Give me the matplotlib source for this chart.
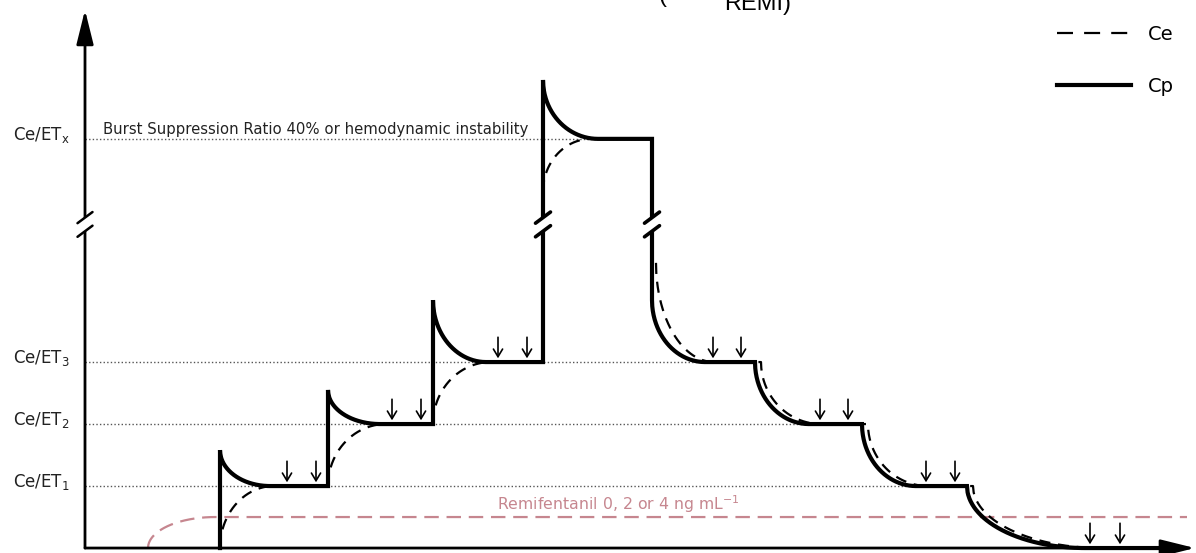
import matplotlib.pyplot as plt
import numpy as np
from matplotlib.lines import Line2D

plt.rcParams['font.family'] = ['DejaVu Sans']

# concentration levels (display units, ET_x squeezed by the axis break)
LEVEL_NAMES = ['1', '2', '3', 'x']
LEVELS = [1.0, 2.0, 3.0, 6.6]

# up-titration: step times, Cp overshoot peaks and how long each curve takes to settle
STEP_TIMES = [13.5, 24.3, 34.8, 45.8]
STEP_PEAKS = [1.58, 2.55, 4.0, 7.55]
CP_WIDTH_UP = [5.0, 5.2, 5.3, 5.5]
CE_START_UP = [0.0, 1.0, 2.0, 5.75]
CE_WIDTH_UP = [5.4, 5.8, 5.8, 4.8]

# down-titration
DOWN_TIMES = [56.7, 67.0, 77.7, 88.2]
DOWN_FROM = [4.0, 3.0, 2.0, 1.0]
DOWN_TO = [3.0, 2.0, 1.0, 0.0]
CP_WIDTH_DOWN = [5.3, 5.4, 5.4, 11.8]
CE_FROM_DOWN = [4.6, 3.0, 2.0, 1.0]
CE_LAG_DOWN = [0.4, 0.6, 0.6, 0.6]
CE_WIDTH_DOWN = [5.8, 6.0, 6.0, 12.8]
END_TIME = 109.5

# remifentanil background
REMI_START = 6.3
REMI_WIDTH = 6.7
REMI_LEVEL = 0.5

# stimulus arrows
STIM_TIMES = [20.2, 23.1, 30.7, 33.6, 41.3, 44.2, 62.8, 65.6,
              73.5, 76.3, 84.1, 87.0, 100.5, 103.5]
STIM_LEVELS = [1, 1, 2, 2, 3, 3, 3, 3, 2, 2, 1, 1, 0, 0]

# dotted guide for each level runs until Cp leaves it on the way down
GUIDE_ENDS = [DOWN_TIMES[3], DOWN_TIMES[2], DOWN_TIMES[1], DOWN_TIMES[0]]

BREAK_Y = 5.22
X_MAX = 111.0
Y_MAX = 8.68

REMI_COLOR = '#c6868f'
CE_STYLE = dict(color='black', lw=1.6, linestyle=(0, (5, 3.5)), zorder=3)


def arc_seg(t0, width, start, end, t_end, n=200):
    # quarter-ellipse from start (vertical tangent) to end (flat), then flat
    u = np.linspace(0, 1, n)
    t = t0 + width * u
    y = end + (start - end) * (1 - np.sqrt(1 - (1 - u) ** 2))
    return list(t) + [t_end], list(y) + [end]


fig = plt.figure(figsize=(11.96, 5.53), dpi=100)
ax = fig.add_axes([0, 0, 1, 1])
ax.set_xlim(-8.5, 111.1)
ax.set_ylim(-0.08, 8.84)
ax.axis('off')

# dotted reference levels
for i, lvl in enumerate(LEVELS):
    ax.plot([0, GUIDE_ENDS[i]], [lvl, lvl], color='#555555', lw=1,
            linestyle=(0, (1, 1.6)), zorder=1)
    ax.text(-1.5, lvl - 0.02, r'Ce/ET$_{\mathrm{%s}}$' % LEVEL_NAMES[i], ha='right',
            va='baseline', fontsize=12, color='#222222')

ax.text(1.8, LEVELS[3] + 0.08, 'Burst Suppression Ratio 40% or hemodynamic instability',
        fontsize=10.75, color='#222222', va='baseline')

# remifentanil line
t, y = arc_seg(REMI_START, REMI_WIDTH, 0.0, REMI_LEVEL, X_MAX - 0.8)
ax.plot(t, y, color=REMI_COLOR, lw=1.6, linestyle=(0, (6.5, 3.5)), zorder=2)
ax.text(41.2, REMI_LEVEL + 0.11, r'Remifentanil 0, 2 or 4 ng mL$^{-1}$',
        color=REMI_COLOR, fontsize=11.3, va='baseline')

# Cp (plasma)
cp_t, cp_y = [], []
for i, t0 in enumerate(STEP_TIMES):
    t1 = STEP_TIMES[i + 1] if i + 1 < len(STEP_TIMES) else DOWN_TIMES[0]
    prev = LEVELS[i - 1] if i > 0 else 0.0
    t, y = arc_seg(t0, CP_WIDTH_UP[i], STEP_PEAKS[i], LEVELS[i], t1)
    cp_t += [t0] + t
    cp_y += [prev] + y
for i, t0 in enumerate(DOWN_TIMES):
    t1 = DOWN_TIMES[i + 1] if i + 1 < len(DOWN_TIMES) else END_TIME
    t, y = arc_seg(t0, CP_WIDTH_DOWN[i], DOWN_FROM[i], DOWN_TO[i], t1)
    cp_t += t
    cp_y += y
ax.plot(cp_t, cp_y, color='black', lw=3, solid_joinstyle='miter', zorder=4)

# Ce (effect site)
for i, t0 in enumerate(STEP_TIMES):
    t1 = STEP_TIMES[i + 1] if i + 1 < len(STEP_TIMES) else DOWN_TIMES[0]
    t, y = arc_seg(t0, CE_WIDTH_UP[i], CE_START_UP[i], LEVELS[i], t1)
    ax.plot(t, y, **CE_STYLE)
ce_t, ce_y = [], []
for i, t0 in enumerate(DOWN_TIMES):
    t1 = DOWN_TIMES[i + 1] if i + 1 < len(DOWN_TIMES) else END_TIME
    t, y = arc_seg(t0 + CE_LAG_DOWN[i], CE_WIDTH_DOWN[i], CE_FROM_DOWN[i], DOWN_TO[i], t1)
    if i > 0:
        ce_t.append(t0)
        ce_y.append(CE_FROM_DOWN[i])
    ce_t += t
    ce_y += y
ax.plot(ce_t, ce_y, **CE_STYLE)

# axes with arrow heads
arrow = dict(arrowstyle='-|>,head_length=2.1,head_width=0.52', lw=2,
             color='black', shrinkA=0, shrinkB=0)
ax.annotate('', xy=(0, Y_MAX), xytext=(0, 0), arrowprops=arrow, zorder=5)
ax.annotate('', xy=(X_MAX, 0), xytext=(0, 0), arrowprops=arrow, zorder=5)

# axis breaks
for bx, lw in [(0, 1.8), (STEP_TIMES[-1], 2.6), (DOWN_TIMES[0], 2.6)]:
    dx, dy, off = 0.75, 0.09, 0.11
    lo, hi = BREAK_Y - off, BREAK_Y + off
    ax.fill([bx - dx, bx + dx, bx + dx, bx - dx],
            [lo - dy, lo + dy, hi + dy, hi - dy], color='white', zorder=6)
    for c in (lo, hi):
        ax.plot([bx - dx, bx + dx], [c - dy, c + dy], color='black', lw=lw,
                solid_capstyle='round', zorder=7)

# stimulus arrows
for t, lvl in zip(STIM_TIMES, STIM_LEVELS):
    ax.annotate('', xy=(t, lvl + 0.06), xytext=(t, lvl + 0.4),
                arrowprops=dict(arrowstyle='->,head_length=0.55,head_width=0.33',
                                lw=1.2, color='black', shrinkA=0, shrinkB=0),
                zorder=6)

# legend
handles = [Line2D([], [], color='black', lw=1.6, linestyle=(0, (7.2, 5.0))),
           Line2D([], [], color='black', lw=3)]
fig.legend(handles, ['Ce', 'Cp'], loc='upper right',
           bbox_to_anchor=(1182 / 1196, 1 - 17 / 553), frameon=False, borderaxespad=0,
           fontsize=14, handlelength=3.8, labelspacing=1.7, handletextpad=0.9)

# title remnant cut by the top edge
fig.text(659 / 1196, 1 - 2 / 553, '(', fontsize=17, family='Liberation Sans',
         va='baseline')
fig.text(724 / 1196, 1 - 10 / 553, 'REMI)', fontsize=17, family='Liberation Sans',
         va='baseline')

fig.savefig('out.png', dpi=100)
